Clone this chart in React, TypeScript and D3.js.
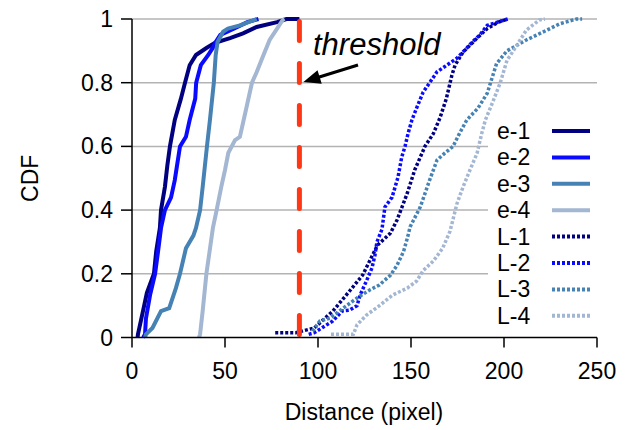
import { useRef, useEffect } from 'react'
import * as d3 from 'd3'

// [distance, cdf] points
const e1 = [[3, 0], [3.2, 0.01], [5.9, 0.083], [8, 0.14], [11.8, 0.2], [13, 0.27], [15, 0.344], [15.6, 0.4], [17.7, 0.473], [19, 0.54], [20.4, 0.6], [23, 0.683], [26.3, 0.75], [28.5, 0.8], [31, 0.855], [34.4, 0.887], [40, 0.909], [44.6, 0.925], [52.7, 0.94], [59.7, 0.955], [67, 0.975], [78, 0.99], [83, 1], [90, 1]]
const e2 = [[6, 0], [7, 0.01], [7.5, 0.06], [9.7, 0.133], [12.4, 0.2], [14, 0.27], [15.6, 0.344], [17.7, 0.4], [21, 0.44], [23, 0.494], [25.8, 0.6], [29, 0.63], [31, 0.683], [34, 0.75], [34.5, 0.8], [37, 0.855], [41, 0.887], [43.5, 0.91], [45, 0.928], [47.5, 0.95], [55, 0.97], [62, 0.99], [68, 1]]
const e3 = [[7, 0], [7.5, 0.01], [11, 0.03], [15.6, 0.083], [20, 0.092], [23.6, 0.155], [25.8, 0.2], [29, 0.28], [33, 0.32], [34.4, 0.344], [36.6, 0.4], [38, 0.473], [40.3, 0.6], [41.9, 0.683], [44, 0.8], [45, 0.887], [46, 0.928], [49, 0.96], [51.6, 0.97], [58, 0.98], [67, 1]]
const e4 = [[36, 0], [36.6, 0.01], [38, 0.083], [40, 0.2], [43.5, 0.344], [45.5, 0.4], [48, 0.473], [50, 0.526], [51.8, 0.58], [55.4, 0.62], [58, 0.63], [60.7, 0.7], [64.5, 0.8], [67, 0.833], [70, 0.877], [74, 0.934], [78, 0.97], [81, 0.997], [82, 1]]
const L1 = [[77, 0.015], [88, 0.015], [98, 0.03], [108, 0.083], [117, 0.146], [124, 0.196], [128, 0.243], [132, 0.29], [139, 0.328], [142.5, 0.369], [148, 0.453], [152, 0.526], [157.5, 0.6], [162, 0.64], [165.6, 0.69], [169, 0.75], [172, 0.824], [173.7, 0.855], [178, 0.896], [185.5, 0.94], [191, 0.97], [197, 0.99], [202, 1]]
const L2 = [[95, 0.01], [98, 0.015], [108, 0.052], [113, 0.083], [117, 0.086], [121, 0.1], [122.6, 0.133], [126, 0.177], [129, 0.218], [130.6, 0.258], [131.7, 0.3], [134.4, 0.34], [136, 0.41], [139.8, 0.44], [143, 0.503], [145, 0.566], [146.8, 0.6], [148.4, 0.64], [150.5, 0.683], [153, 0.72], [156.5, 0.77], [160, 0.8], [164, 0.834], [168, 0.85], [174.7, 0.877], [180, 0.909], [183, 0.928], [187, 0.95], [191, 0.98], [202, 1]]
const L3 = [[97, 0.02], [101, 0.052], [106.5, 0.061], [113.5, 0.092], [121, 0.124], [128, 0.15], [133, 0.165], [139, 0.196], [142.5, 0.227], [146, 0.27], [148.4, 0.32], [149.5, 0.347], [155, 0.41], [160, 0.494], [164, 0.557], [168, 0.578], [172.6, 0.6], [176, 0.64], [180, 0.683], [186, 0.72], [191, 0.767], [196, 0.86], [201.6, 0.9], [212, 0.934], [223, 0.965], [230, 0.985], [239, 1], [242, 1]]
const L4 = [[107, 0.01], [119, 0.01], [121, 0.04], [126, 0.07], [133, 0.1], [140, 0.133], [148, 0.155], [153, 0.177], [156.5, 0.21], [162, 0.24], [167, 0.28], [171, 0.334], [174.7, 0.42], [178, 0.473], [181.7, 0.526], [185.5, 0.578], [188, 0.64], [190, 0.683], [194, 0.74], [198, 0.8], [201.6, 0.87], [205, 0.9], [212, 0.965], [219, 0.997], [222, 1]]

const seriesNames = ['e-1', 'e-2', 'e-3', 'e-4', 'L-1', 'L-2', 'L-3', 'L-4']
const seriesData = [e1, e2, e3, e4, L1, L2, L3, L4]
const colors = ['#000080', '#0a0aff', '#4682b4', '#a3b6d2']

const xTicks = [0, 50, 100, 150, 200, 250]
const yTicks = [0, 0.2, 0.4, 0.6, 0.8, 1]
const threshold = 90

const App = () => {
  const ref = useRef(null)

  useEffect(() => {
    const svg = d3.select(ref.current)
    svg.selectAll('*').remove()

    const font = 'Liberation Sans, Arial, Helvetica, sans-serif'
    const x = d3.scaleLinear().domain([0, 250]).range([132, 597])
    const y = d3.scaleLinear().domain([0, 1]).range([337.5, 19])

    // GRID
    svg.append('g').selectAll('line')
      .data(yTicks.slice(1))
      .enter()
      .append('line')
        .attr('x1', x(0)).attr('x2', x(250))
        .attr('y1', d => y(d)).attr('y2', d => y(d))
        .attr('stroke', '#b3b3b3').attr('stroke-width', 1.5)

    // LINES
    const line = d3.line().x(d => x(d[0])).y(d => y(d[1]))
    seriesData.forEach((data, i) => {
      svg.append('path')
        .datum(data)
        .attr('d', line)
        .attr('fill', 'none')
        .attr('stroke', colors[i % 4])
        .attr('stroke-width', i >= 4 ? 3.5 : 4)
        .attr('stroke-dasharray', i >= 4 ? '3 2' : null)
    })

    // THRESHOLD
    svg.append('line')
      .attr('x1', x(threshold)).attr('x2', x(threshold))
      .attr('y1', y(1) + 2.5).attr('y2', y(0))
      .attr('stroke', '#ff3714').attr('stroke-width', 5)
      .attr('stroke-linecap', 'round')
      .attr('stroke-dasharray', '19 23')

    svg.append('text')
      .attr('x', 313).attr('y', 55)
      .attr('font-family', font).attr('font-style', 'italic')
      .attr('font-size', 31)
      .text('threshold')

    // arrow pointing at the threshold line
    const tail = [358, 65], tip = [x(threshold) + 4, 82]
    const len = Math.hypot(tip[0] - tail[0], tip[1] - tail[1])
    const ux = (tip[0] - tail[0]) / len, uy = (tip[1] - tail[1]) / len
    const headLen = 17, headHalf = 7
    const bx = tip[0] - ux * headLen, by = tip[1] - uy * headLen
    svg.append('line')
      .attr('x1', tail[0]).attr('y1', tail[1])
      .attr('x2', bx + ux * 2).attr('y2', by + uy * 2)
      .attr('stroke', '#000').attr('stroke-width', 3)
    svg.append('path')
      .attr('d', `M${tip[0]},${tip[1]}L${bx - uy * headHalf},${by + ux * headHalf}L${bx + uy * headHalf},${by - ux * headHalf}Z`)
      .attr('fill', '#000')

    // LEGEND
    svg.append('rect')
      .attr('x', 488).attr('y', 116)
      .attr('width', 110).attr('height', 214)
      .attr('fill', '#fff')
    const legend = svg.append('g')
    seriesNames.forEach((name, i) => {
      const ly = 131 + i * 26.4
      legend.append('text')
        .attr('x', 497).attr('y', ly + 8)
        .attr('font-family', font).attr('font-size', 23)
        .text(name)
      legend.append('line')
        .attr('x1', 552).attr('x2', 590)
        .attr('y1', ly).attr('y2', ly)
        .attr('stroke', colors[i % 4])
        .attr('stroke-width', 4)
        .attr('stroke-dasharray', i >= 4 ? '3 2' : null)
    })

    // AXES
    const axes = svg.append('g')
    axes.append('line')
      .attr('x1', x(0)).attr('x2', x(0))
      .attr('y1', y(1)).attr('y2', y(0))
      .attr('stroke', '#000').attr('stroke-width', 1.5)
    axes.append('line')
      .attr('x1', x(0)).attr('x2', x(250))
      .attr('y1', y(0)).attr('y2', y(0))
      .attr('stroke', '#000').attr('stroke-width', 1.5)

    xTicks.forEach(t => {
      axes.append('line')
        .attr('x1', x(t)).attr('x2', x(t))
        .attr('y1', y(0)).attr('y2', y(0) + 10)
        .attr('stroke', '#000').attr('stroke-width', 1.5)
      axes.append('text')
        .attr('x', x(t)).attr('y', y(0) + 41)
        .attr('text-anchor', 'middle')
        .attr('font-family', font).attr('font-size', 23)
        .text(t)
    })
    yTicks.forEach(t => {
      axes.append('line')
        .attr('x1', x(0) - 11).attr('x2', x(0))
        .attr('y1', y(t)).attr('y2', y(t))
        .attr('stroke', '#000').attr('stroke-width', 1.5)
      axes.append('text')
        .attr('x', x(0) - 19).attr('y', y(t) + 8)
        .attr('text-anchor', 'end')
        .attr('font-family', font).attr('font-size', 23)
        .text(t === 0 || t === 1 ? String(t) : t.toFixed(1))
    })

    svg.append('text')
      .attr('x', 364).attr('y', 420)
      .attr('text-anchor', 'middle')
      .attr('font-family', font).attr('font-size', 23)
      .text('Distance (pixel)')
    svg.append('text')
      .attr('transform', `translate(38, ${y(0.5)}) rotate(-90)`)
      .attr('text-anchor', 'middle')
      .attr('font-family', font).attr('font-size', 23)
      .text('CDF')
  }, [])

  return (
    <svg ref={ref} width={636} height={430}
      style={{ position: 'absolute', left: 0, top: 0, background: '#fff' }} />
  )
}

export default App
